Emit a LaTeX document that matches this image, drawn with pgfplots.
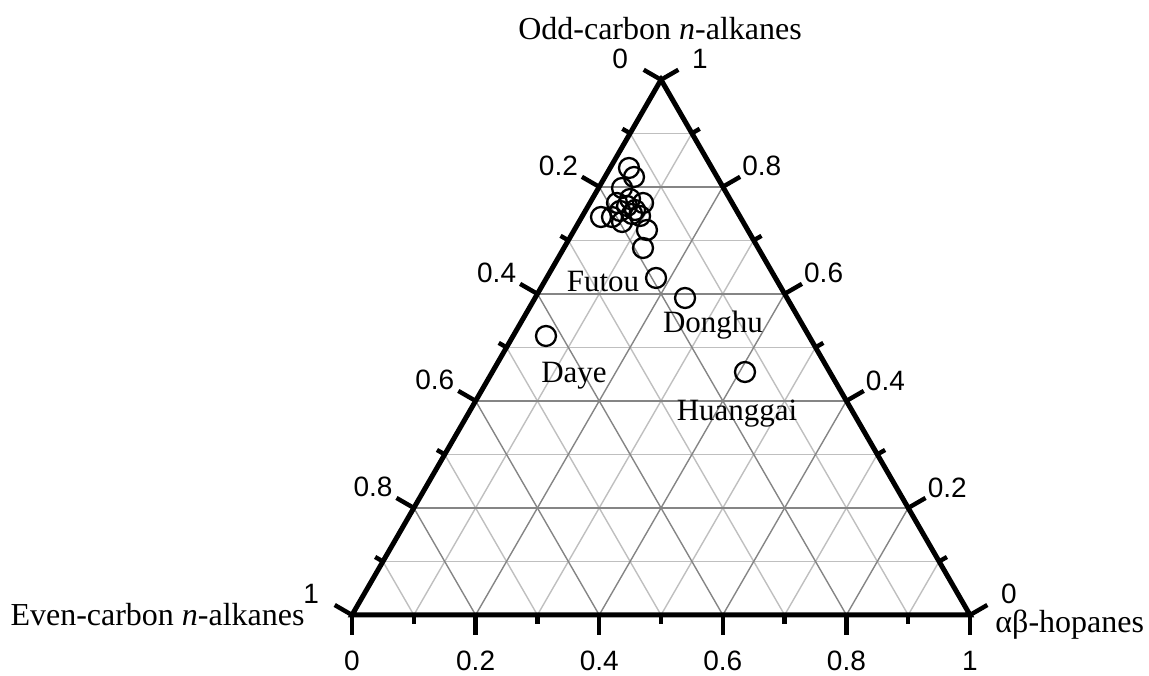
\documentclass[border=0pt]{standalone}
\usepackage{pgfplots}
\pgfplotsset{compat=1.18}
\usepackage{fontspec}
\setmainfont{Liberation Serif}
\newfontfamily\arial{Liberation Sans}
\begin{document}
\begin{tikzpicture}
\begin{axis}[x=309pt, y=309pt, xmin=-0.5696, xmax=1.2896, ymin=-0.0971, ymax=0.9951,
  hide axis, clip=false]
\coordinate (ll) at (axis cs:-0.5696,-0.0971);
\coordinate (ur) at (axis cs:1.2896,0.9951);
% minor grid
\begin{scope}[black!25, line width=0.7pt]
\draw (axis cs:0.05,0.08660) -- (axis cs:0.95,0.08660);
\draw (axis cs:0.15,0.25981) -- (axis cs:0.85,0.25981);
\draw (axis cs:0.25,0.43301) -- (axis cs:0.75,0.43301);
\draw (axis cs:0.35,0.60622) -- (axis cs:0.65,0.60622);
\draw (axis cs:0.45,0.77942) -- (axis cs:0.55,0.77942);
\draw (axis cs:0.1,0) -- (axis cs:0.55,0.77942);
\draw (axis cs:0.3,0) -- (axis cs:0.65,0.60622);
\draw (axis cs:0.5,0) -- (axis cs:0.75,0.43301);
\draw (axis cs:0.7,0) -- (axis cs:0.85,0.25981);
\draw (axis cs:0.9,0) -- (axis cs:0.95,0.08660);
\draw (axis cs:0.1,0) -- (axis cs:0.05,0.08660);
\draw (axis cs:0.3,0) -- (axis cs:0.15,0.25981);
\draw (axis cs:0.5,0) -- (axis cs:0.25,0.43301);
\draw (axis cs:0.7,0) -- (axis cs:0.35,0.60622);
\draw (axis cs:0.9,0) -- (axis cs:0.45,0.77942);
\end{scope}
% major grid
\begin{scope}[black!48, line width=0.7pt]
\draw (axis cs:0.10,0.17321) -- (axis cs:0.90,0.17321);
\draw (axis cs:0.20,0.34641) -- (axis cs:0.80,0.34641);
\draw (axis cs:0.30,0.51962) -- (axis cs:0.70,0.51962);
\draw (axis cs:0.40,0.69282) -- (axis cs:0.60,0.69282);
\draw (axis cs:0.2,0) -- (axis cs:0.60,0.69282);
\draw (axis cs:0.4,0) -- (axis cs:0.70,0.51962);
\draw (axis cs:0.6,0) -- (axis cs:0.80,0.34641);
\draw (axis cs:0.8,0) -- (axis cs:0.90,0.17321);
\draw (axis cs:0.2,0) -- (axis cs:0.10,0.17321);
\draw (axis cs:0.4,0) -- (axis cs:0.20,0.34641);
\draw (axis cs:0.6,0) -- (axis cs:0.30,0.51962);
\draw (axis cs:0.8,0) -- (axis cs:0.40,0.69282);
\end{scope}
% frame
\draw[black, line width=2.5pt, line join=miter] (axis cs:0,0) -- (axis cs:1,0) -- (axis cs:0.5,0.866025) -- cycle;
% ticks
\begin{scope}[black, line width=2.2pt]
% left side, major
\draw (axis cs:0,0) -- ++(150:10pt);
\draw (axis cs:0.1,0.17321) -- ++(150:10pt);
\draw (axis cs:0.2,0.34641) -- ++(150:10pt);
\draw (axis cs:0.3,0.51962) -- ++(150:10pt);
\draw (axis cs:0.4,0.69282) -- ++(150:10pt);
\draw (axis cs:0.5,0.866025) -- ++(150:10pt);
% left side, minor
\draw (axis cs:0.05,0.08660) -- ++(150:4.5pt);
\draw (axis cs:0.15,0.25981) -- ++(150:4.5pt);
\draw (axis cs:0.25,0.43301) -- ++(150:4.5pt);
\draw (axis cs:0.35,0.60622) -- ++(150:4.5pt);
\draw (axis cs:0.45,0.77942) -- ++(150:4.5pt);
% right side, major
\draw (axis cs:1,0) -- ++(30:10pt);
\draw (axis cs:0.9,0.17321) -- ++(30:10pt);
\draw (axis cs:0.8,0.34641) -- ++(30:10pt);
\draw (axis cs:0.7,0.51962) -- ++(30:10pt);
\draw (axis cs:0.6,0.69282) -- ++(30:10pt);
\draw (axis cs:0.5,0.866025) -- ++(30:10pt);
% right side, minor
\draw (axis cs:0.95,0.08660) -- ++(30:4.5pt);
\draw (axis cs:0.85,0.25981) -- ++(30:4.5pt);
\draw (axis cs:0.75,0.43301) -- ++(30:4.5pt);
\draw (axis cs:0.65,0.60622) -- ++(30:4.5pt);
\draw (axis cs:0.55,0.77942) -- ++(30:4.5pt);
% bottom, major
\draw (axis cs:0,0) -- ++(-90:10pt);
\draw (axis cs:0.2,0) -- ++(-90:10pt);
\draw (axis cs:0.4,0) -- ++(-90:10pt);
\draw (axis cs:0.6,0) -- ++(-90:10pt);
\draw (axis cs:0.8,0) -- ++(-90:10pt);
\draw (axis cs:1,0) -- ++(-90:10pt);
% bottom, minor
\draw (axis cs:0.1,0) -- ++(-90:4.5pt);
\draw (axis cs:0.3,0) -- ++(-90:4.5pt);
\draw (axis cs:0.5,0) -- ++(-90:4.5pt);
\draw (axis cs:0.7,0) -- ++(-90:4.5pt);
\draw (axis cs:0.9,0) -- ++(-90:4.5pt);
\end{scope}
% tick labels
\begin{scope}[every node/.style={font=\arial\fontsize{14}{16}\selectfont, inner sep=0pt}]
\node[xshift=-20.4pt, yshift=10.5pt] at (axis cs:0.5,0.866025) {0};
\node[xshift=-20.4pt, yshift=10.5pt] at (axis cs:0.4,0.69282) {0.2};
\node[xshift=-20.4pt, yshift=10.5pt] at (axis cs:0.3,0.51962) {0.4};
\node[xshift=-20.4pt, yshift=10.5pt] at (axis cs:0.2,0.34641) {0.6};
\node[xshift=-20.4pt, yshift=10.5pt] at (axis cs:0.1,0.17321) {0.8};
\node[xshift=-20.4pt, yshift=10.5pt] at (axis cs:0,0) {1};
\node[xshift=19.5pt, yshift=10.75pt] at (axis cs:1,0) {0};
\node[xshift=19.5pt, yshift=10.25pt] at (axis cs:0.9,0.17321) {0.2};
\node[xshift=19.5pt, yshift=10.25pt] at (axis cs:0.8,0.34641) {0.4};
\node[xshift=19.5pt, yshift=10.25pt] at (axis cs:0.7,0.51962) {0.6};
\node[xshift=19.5pt, yshift=10.25pt] at (axis cs:0.6,0.69282) {0.8};
\node[xshift=19.5pt, yshift=10.25pt] at (axis cs:0.5,0.866025) {1};
\node[yshift=-23pt] at (axis cs:0,0) {0};
\node[yshift=-23pt] at (axis cs:0.2,0) {0.2};
\node[yshift=-23pt] at (axis cs:0.4,0) {0.4};
\node[yshift=-23pt] at (axis cs:0.6,0) {0.6};
\node[yshift=-23pt] at (axis cs:0.8,0) {0.8};
\node[yshift=-23pt] at (axis cs:1,0) {1};
\end{scope}
% titles
\begin{scope}[every node/.style={font=\fontsize{16}{19}\selectfont, inner sep=0pt}]
\node[anchor=base] at (axis cs:0.4984,0.9304) {Odd-carbon \textit{n}-alkanes};
\node[anchor=base east] at (axis cs:-0.0761,-0.0162) {Even-carbon \textit{n}-alkanes};
\node[anchor=base west] at (axis cs:1.0405,-0.0290) {αβ-hopanes};
\end{scope}
\begin{scope}[every node/.style={font=\fontsize{15.5}{18}\selectfont, inner sep=0pt, anchor=base}]
\node at (axis cs:0.4061,0.5227) {Futou};
\node at (axis cs:0.5841,0.4563) {Donghu};
\node at (axis cs:0.3592,0.3770) {Daye};
\node at (axis cs:0.6230,0.3155) {Huanggai};
\end{scope}
% data: o = odd-carbon fraction, h = hopane fraction
\addplot[only marks, mark=o, mark size=5pt, mark options={line width=1.15pt, black}, black]
 table[row sep=\\, x expr={\thisrow{h}+0.5*\thisrow{o}}, y expr={0.866025*\thisrow{o}}] {
o h \\
0.8352 0.0306 \\
0.8184 0.0471 \\
0.7978 0.0380 \\
0.7436 0.0311 \\
0.7436 0.0489 \\
0.7549 0.0563 \\
0.7343 0.0698 \\
0.7642 0.0629 \\
0.7773 0.0612 \\
0.7567 0.0796 \\
0.7698 0.0860 \\
0.7455 0.0933 \\
0.7193 0.1176 \\
0.6857 0.1280 \\
0.7493 0.0785 \\
0.7698 0.0439 \\
0.6297 0.1771 \\
0.5923 0.2427 \\
0.5213 0.0532 \\
0.4540 0.4089 \\
};
\end{axis}
\pgfresetboundingbox
\path[use as bounding box] (ll) rectangle (ur);
\end{tikzpicture}
\end{document}
